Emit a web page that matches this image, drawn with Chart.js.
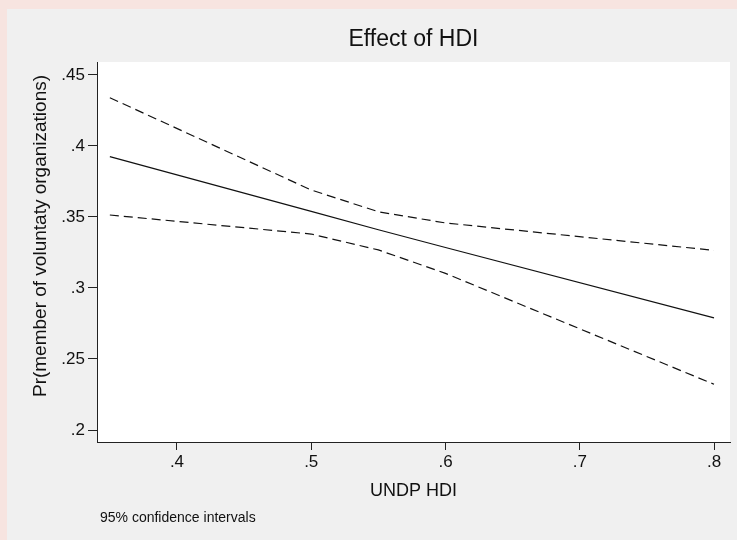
<!DOCTYPE html>
<html>
<head>
<meta charset="utf-8">
<title>Effect of HDI</title>
<script src="https://cdn.jsdelivr.net/npm/chart.js@4.4.1/dist/chart.umd.min.js"></script>
<style>
    html, body { margin: 0; padding: 0; background: #f7e4e0; }
    #wrap { width: 737px; height: 540px; position: relative; }
</style>
</head>
<body>
<div id="wrap"><canvas id="hdiChart" width="737" height="540"></canvas></div>
<script>
// ========================================
// DATA
// ========================================
const hdiValues = [0.35, 0.5, 0.55, 0.6, 0.8];
const predicted = [0.3925, 0.354, 0.341, 0.3285, 0.279];
const upperCI = [0.434, 0.369, 0.3537, 0.3458, 0.3265];
const lowerCI = [0.3514, 0.338, 0.3268, 0.3103, 0.2322];

const xTickValues = [0.4, 0.5, 0.6, 0.7, 0.8];
const xTickLabels = ['.4', '.5', '.6', '.7', '.8'];
const yTickValues = [0.2, 0.25, 0.3, 0.35, 0.4, 0.45];
const yTickLabels = ['.2', '.25', '.3', '.35', '.4', '.45'];

const chartTitle = 'Effect of HDI';
const xTitle = 'UNDP HDI';
const yTitle = 'Pr(member of voluntaty organizations)';
const noteText = '95% confidence intervals';

const FONT = "'Liberation Sans', Arial, Helvetica, sans-serif";
const INK = '#111';

function toPoints(ys) {
    return hdiValues.map(function (x, i) { return { x: x, y: ys[i] }; });
}

// ========================================
// BACKGROUND + TEXT PLUGIN
// ========================================
const stataBackground = {
    id: 'stataBackground',
    beforeDraw: function (chart) {
        const ctx = chart.ctx;
        const area = chart.chartArea;
        ctx.save();
        ctx.fillStyle = '#f7e4e0';
        ctx.fillRect(0, 0, chart.width, chart.height);
        ctx.fillStyle = '#f0f0f0';
        ctx.fillRect(7, 9, chart.width - 7, chart.height - 9);
        ctx.fillStyle = '#ffffff';
        ctx.fillRect(area.left, area.top, area.right - area.left, area.bottom - area.top);
        ctx.restore();
    },
    afterDraw: function (chart) {
        const ctx = chart.ctx;
        const area = chart.chartArea;
        ctx.save();
        ctx.fillStyle = INK;

        // title, centred over the plot region
        ctx.font = '23px ' + FONT;
        ctx.textAlign = 'center';
        ctx.textBaseline = 'alphabetic';
        ctx.fillText(chartTitle, (area.left + area.right) / 2, 46);

        // y axis title
        ctx.save();
        ctx.translate(41, 236);
        ctx.rotate(-Math.PI / 2);
        ctx.font = '19px ' + FONT;
        ctx.textBaseline = 'middle';
        ctx.fillText(yTitle, 0, 0);
        ctx.restore();

        // note
        ctx.font = '14px ' + FONT;
        ctx.textAlign = 'left';
        ctx.fillText(noteText, 100, 522);
        ctx.restore();
    }
};

function fixedTicks(values) {
    return function (scale) {
        scale.ticks = values.map(function (v) { return { value: v }; });
    };
}

function labelFrom(values, labels) {
    return function (value) {
        const i = values.findIndex(function (v) { return Math.abs(v - value) < 1e-9; });
        return i >= 0 ? labels[i] : '';
    };
}

const lineStyle = {
    borderColor: INK,
    borderWidth: 1.2,
    pointRadius: 0,
    fill: false,
    tension: 0
};

new Chart(document.getElementById('hdiChart'), {
    type: 'line',
    data: {
        datasets: [
            Object.assign({ label: 'upper', data: toPoints(upperCI), borderDash: [9, 5] }, lineStyle),
            Object.assign({ label: 'predicted', data: toPoints(predicted) }, lineStyle),
            Object.assign({ label: 'lower', data: toPoints(lowerCI), borderDash: [9, 5] }, lineStyle)
        ]
    },
    options: {
        responsive: false,
        animation: false,
        devicePixelRatio: 1,
        layout: { padding: { top: 62, right: 7, bottom: 0, left: 0 } },
        plugins: {
            legend: { display: false },
            tooltip: { enabled: false },
            title: { display: false }
        },
        scales: {
            x: {
                type: 'linear',
                min: 0.34043,
                max: 0.81191,
                afterBuildTicks: fixedTicks(xTickValues),
                afterFit: function (scale) { scale.height = 98; },
                border: { display: true, color: '#222', width: 1 },
                grid: { drawOnChartArea: false, drawTicks: true, tickLength: 8, color: '#222' },
                ticks: {
                    color: INK,
                    padding: 2,
                    maxRotation: 0,
                    font: { family: FONT, size: 17 },
                    callback: labelFrom(xTickValues, xTickLabels)
                },
                title: {
                    display: true,
                    text: xTitle,
                    color: INK,
                    font: { family: FONT, size: 18 },
                    padding: { top: 0, bottom: 38 }
                }
            },
            y: {
                type: 'linear',
                min: 0.19155,
                max: 0.45915,
                afterBuildTicks: fixedTicks(yTickValues),
                afterFit: function (scale) { scale.width = 97; },
                border: { display: true, color: '#222', width: 1 },
                grid: { drawOnChartArea: false, drawTicks: true, tickLength: 9, color: '#222' },
                ticks: {
                    color: INK,
                    padding: 3,
                    font: { family: FONT, size: 17 },
                    callback: labelFrom(yTickValues, yTickLabels)
                },
                title: { display: false }
            }
        }
    },
    plugins: [stataBackground]
});
</script>
</body>
</html>
